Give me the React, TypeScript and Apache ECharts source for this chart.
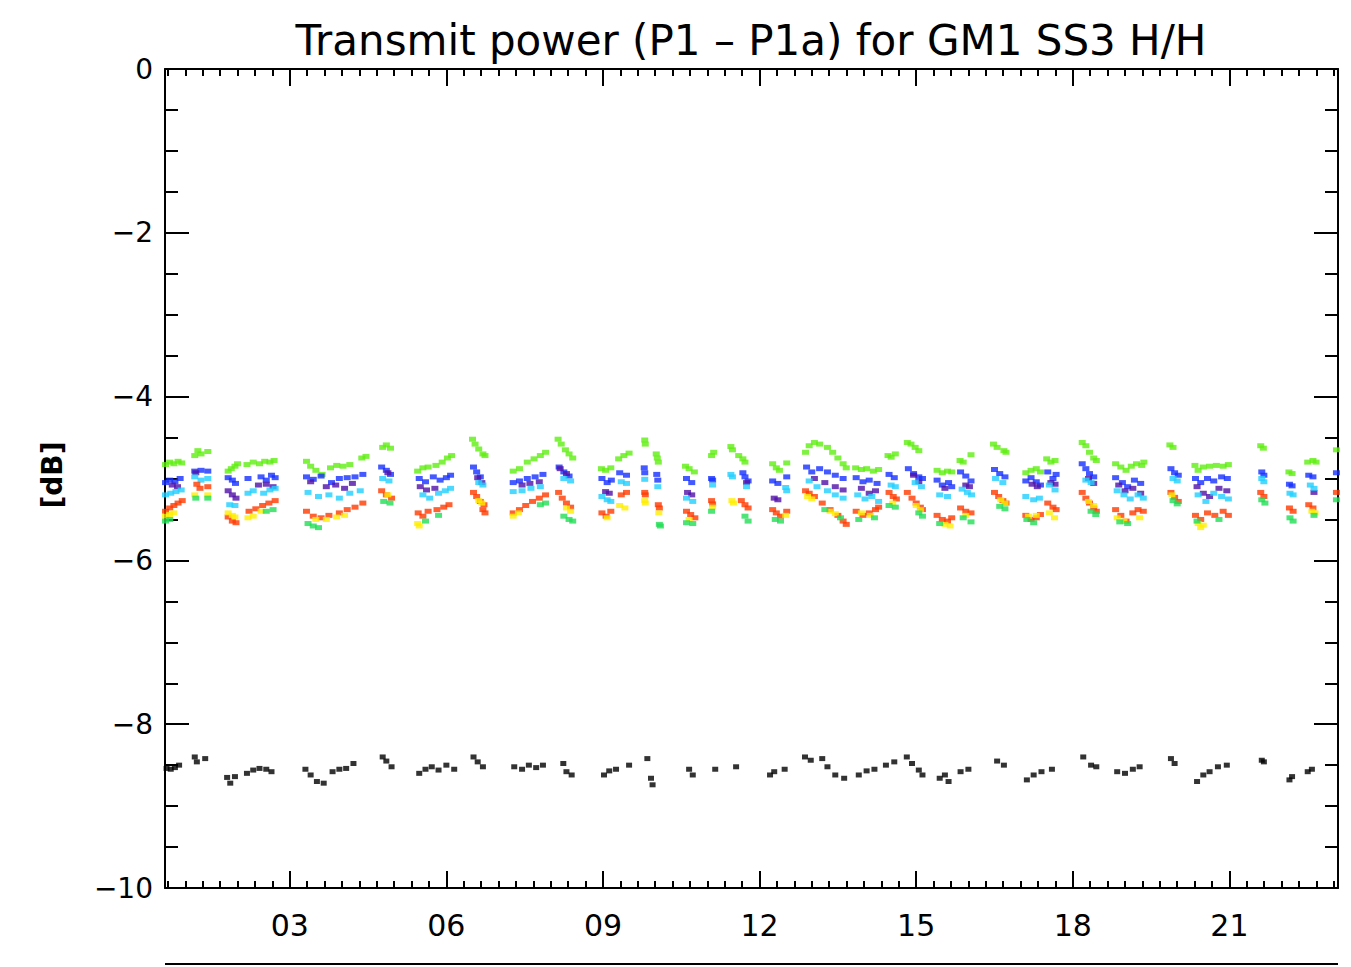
import React, { useEffect, useRef } from "react";
import * as echarts from "echarts";

// ---- axis definitions ----
const X_MIN = 0.61;
const X_MAX = 23.08;
const Y_MIN = -10;
const Y_MAX = 0;
const xMajorTicks = [3, 6, 9, 12, 15, 18, 21];
const xTickLabels = ["03", "06", "09", "12", "15", "18", "21"];
const titleText = "Transmit power (P1 \u2013 P1a) for GM1 SS3 H/H";
const yAxisTitle = "[dB]";

// ---- series values [x, dB] ----
const greenTop: number[][] = [
  [0.62,-4.83],[0.70,-4.80],[0.78,-4.82],[0.86,-4.79],[0.93,-4.81],
  [1.18,-4.72],[1.24,-4.66],[1.30,-4.70],[1.43,-4.67],
  [1.82,-4.91],[1.88,-4.88],[1.95,-4.85],[2.00,-4.82],
  [2.18,-4.83],[2.30,-4.80],[2.42,-4.82],[2.52,-4.79],[2.62,-4.80],[2.70,-4.78],
  [3.32,-4.79],[3.40,-4.85],[3.50,-4.90],[3.62,-4.95],[3.78,-4.87],[3.90,-4.84],[4.02,-4.85],[4.15,-4.83],[4.38,-4.75],[4.46,-4.73],
  [4.78,-4.62],[4.85,-4.59],[4.93,-4.63],
  [5.45,-4.91],[5.55,-4.87],[5.65,-4.86],[5.80,-4.84],[5.92,-4.80],[6.02,-4.75],[6.10,-4.72],
  [6.50,-4.52],[6.55,-4.58],[6.62,-4.64],[6.70,-4.70],[6.74,-4.72],
  [7.28,-4.91],[7.40,-4.88],[7.55,-4.80],[7.68,-4.76],[7.80,-4.72],[7.90,-4.68],
  [8.14,-4.52],[8.20,-4.58],[8.28,-4.65],[8.35,-4.70],[8.42,-4.75],
  [8.97,-4.88],[9.05,-4.90],[9.15,-4.87],
  [9.30,-4.76],[9.40,-4.72],[9.50,-4.69],
  [9.80,-4.53],[9.81,-4.58],
  [10.02,-4.70],[10.04,-4.75],[10.06,-4.80],
  [10.58,-4.85],[10.65,-4.88],[10.75,-4.92],
  [11.08,-4.72],[11.12,-4.68],
  [11.45,-4.61],[11.48,-4.65],[11.60,-4.72],[11.68,-4.76],[11.72,-4.80],
  [12.25,-4.82],[12.32,-4.87],[12.38,-4.90],[12.52,-4.81],
  [12.88,-4.68],[12.95,-4.60],[13.05,-4.56],[13.15,-4.58],[13.30,-4.62],[13.40,-4.68],[13.50,-4.75],[13.60,-4.82],[13.66,-4.87],
  [13.84,-4.87],[13.95,-4.89],[14.05,-4.88],[14.18,-4.91],[14.28,-4.89],
  [14.46,-4.72],[14.52,-4.74],[14.60,-4.70],
  [14.83,-4.56],[14.90,-4.58],[14.98,-4.62],[15.05,-4.66],
  [15.40,-4.90],[15.50,-4.93],[15.60,-4.91],[15.68,-4.92],
  [15.84,-4.78],[15.90,-4.80],[16.05,-4.71],
  [16.48,-4.58],[16.55,-4.62],[16.68,-4.66],[16.72,-4.68],
  [17.10,-4.93],[17.20,-4.90],[17.30,-4.88],[17.38,-4.92],
  [17.50,-4.76],[17.58,-4.80],[17.66,-4.78],
  [18.18,-4.56],[18.25,-4.60],[18.32,-4.68],[18.40,-4.75],[18.45,-4.78],
  [18.82,-4.82],[18.92,-4.86],[19.02,-4.90],[19.12,-4.85],[19.22,-4.82],[19.32,-4.84],[19.36,-4.80],
  [19.86,-4.59],[19.92,-4.62],
  [20.34,-4.84],[20.40,-4.90],[20.50,-4.86],[20.62,-4.85],[20.75,-4.84],[20.88,-4.85],[20.98,-4.83],
  [21.60,-4.60],[21.65,-4.63],
  [22.14,-4.92],[22.20,-4.94],
  [22.50,-4.80],[22.60,-4.78],[22.66,-4.80],
  [23.05,-4.65],
];

const blue: number[][] = [
  [0.62,-5.05],[0.70,-5.02],[0.80,-5.04],[0.90,-5.00],
  [1.18,-4.91],[1.30,-4.90],[1.43,-4.91],
  [1.82,-4.99],[1.90,-5.02],[1.96,-5.06],
  [2.20,-5.00],[2.45,-4.98],[2.55,-5.02],[2.65,-4.96],[2.72,-4.99],
  [3.32,-4.98],[3.45,-5.01],[3.60,-4.97],[3.80,-5.05],[3.95,-5.00],[4.10,-4.99],[4.25,-4.98],[4.40,-4.95],
  [4.76,-4.86],[4.85,-4.90],[4.93,-4.95],
  [5.48,-5.00],[5.60,-5.04],[5.75,-4.98],[5.88,-5.02],[6.00,-4.99],[6.08,-4.96],
  [6.52,-4.86],[6.58,-4.92],[6.65,-4.98],
  [7.28,-5.05],[7.40,-5.03],[7.55,-5.00],[7.70,-4.98],[7.85,-4.95],
  [8.16,-4.86],[8.25,-4.92],[8.35,-4.97],
  [8.98,-5.00],[9.08,-5.05],[9.16,-5.02],
  [9.32,-4.93],[9.45,-4.96],
  [9.79,-4.87],[9.80,-4.93],
  [10.03,-4.95],[10.05,-5.02],
  [10.60,-5.00],[10.70,-5.05],
  [11.08,-5.00],[11.10,-5.02],
  [11.68,-4.93],[11.72,-4.98],[11.78,-5.03],
  [12.25,-5.03],[12.35,-5.06],[12.52,-4.98],
  [12.90,-4.86],[13.00,-4.92],[13.15,-4.88],[13.30,-4.92],[13.45,-4.96],[13.60,-5.00],
  [13.85,-4.99],[13.98,-5.04],[14.10,-5.02],[14.25,-5.06],
  [14.48,-4.95],[14.58,-4.99],
  [14.85,-4.88],[14.95,-4.94],[15.05,-4.98],[15.12,-5.00],
  [15.40,-5.02],[15.50,-5.08],[15.62,-5.05],[15.68,-5.10],
  [15.85,-4.92],[15.95,-4.97],[16.05,-5.03],
  [16.50,-4.89],[16.60,-4.94],[16.70,-4.98],
  [17.10,-5.03],[17.20,-4.99],[17.30,-5.04],[17.38,-5.08],
  [17.52,-4.92],[17.62,-5.00],[17.68,-4.95],
  [18.18,-4.82],[18.25,-4.88],[18.32,-4.94],[18.40,-4.98],
  [18.82,-4.99],[18.95,-5.05],[19.05,-5.10],[19.18,-5.02],[19.30,-5.06],
  [19.88,-4.88],[19.95,-4.93],[20.02,-4.96],
  [20.35,-5.00],[20.45,-5.05],[20.58,-5.00],[20.70,-5.03],[20.85,-4.98],[20.96,-5.00],
  [21.62,-4.92],[21.66,-4.96],
  [22.15,-5.07],[22.20,-5.09],
  [22.52,-4.96],[22.60,-4.98],
  [23.05,-4.93],
];

const purple: number[][] = [
  [0.75,-5.08],[0.85,-5.10],
  [1.20,-4.93],
  [1.82,-5.15],[1.90,-5.20],[1.97,-5.24],
  [2.40,-5.08],[2.55,-5.07],[2.68,-5.10],
  [3.40,-5.04],[3.70,-5.10],[3.88,-5.08],[4.05,-5.12],[4.20,-5.06],
  [4.88,-4.93],
  [5.50,-5.10],[5.62,-5.14],[5.78,-5.12],
  [6.60,-4.99],[6.68,-5.05],
  [7.45,-5.08],[7.60,-5.06],[7.78,-5.04],
  [8.18,-4.88],[8.30,-4.94],
  [9.05,-5.16],[9.12,-5.18],
  [10.62,-5.17],[10.70,-5.20],
  [11.75,-5.05],
  [12.28,-5.24],[12.35,-5.26],
  [13.05,-5.00],[13.25,-5.05],[13.45,-5.10],[13.60,-5.14],
  [13.95,-5.12],[14.10,-5.18],[14.22,-5.15],
  [14.95,-4.96],[15.05,-5.04],
  [15.55,-5.12],
  [15.95,-5.08],[16.02,-5.10],
  [17.22,-5.07],[17.32,-5.10],
  [17.58,-5.05],[17.66,-5.07],
  [18.30,-5.00],[18.40,-5.06],
  [18.88,-5.08],[19.00,-5.15],[19.15,-5.12],[19.30,-5.18],
  [20.38,-5.10],[20.50,-5.18],[20.62,-5.22],[20.80,-5.12],[20.95,-5.15],
  [22.62,-5.17],
];

const cyan: number[][] = [
  [0.62,-5.20],[0.72,-5.18],[0.82,-5.16],[0.92,-5.14],
  [1.18,-4.98],[1.30,-5.02],[1.43,-5.00],
  [1.85,-5.32],[1.95,-5.33],
  [2.20,-5.18],[2.30,-5.15],[2.50,-5.18],[2.62,-5.14],[2.72,-5.12],
  [3.35,-5.17],[3.55,-5.22],[3.75,-5.20],[3.95,-5.24],[4.15,-5.18],[4.35,-5.15],
  [4.78,-5.00],[4.90,-5.03],
  [5.55,-5.20],[5.68,-5.24],[5.85,-5.18],[5.98,-5.15],[6.08,-5.12],
  [6.62,-5.05],[6.70,-5.08],
  [7.28,-5.16],[7.45,-5.15],[7.62,-5.12],[7.80,-5.10],
  [8.25,-5.00],[8.38,-5.03],
  [8.98,-5.22],[9.08,-5.26],[9.15,-5.28],
  [9.35,-5.04],[9.45,-5.06],
  [9.80,-5.01],
  [10.05,-5.10],
  [10.60,-5.24],[10.72,-5.28],
  [11.10,-5.08],
  [11.45,-4.95],[11.48,-4.98],[11.75,-5.10],
  [12.50,-5.11],[12.52,-5.15],
  [12.95,-5.03],[13.10,-5.10],[13.30,-5.15],[13.45,-5.20],[13.60,-5.24],
  [13.88,-5.20],[14.02,-5.25],[14.15,-5.22],[14.28,-5.28],
  [14.52,-5.08],[14.60,-5.10],
  [14.98,-5.05],[15.10,-5.10],
  [15.45,-5.20],[15.60,-5.22],
  [15.88,-5.13],[15.98,-5.17],[16.06,-5.20],
  [16.52,-5.00],[16.66,-5.05],
  [17.10,-5.22],[17.25,-5.26],[17.36,-5.24],
  [17.55,-5.08],[17.66,-5.14],
  [18.25,-5.02],[18.35,-5.05],
  [18.85,-5.15],[18.98,-5.20],[19.10,-5.25],[19.25,-5.20],[19.35,-5.24],
  [19.92,-5.00],[20.00,-5.03],
  [20.40,-5.20],[20.55,-5.28],[20.70,-5.18],[20.85,-5.22],[20.98,-5.25],
  [21.62,-5.00],[21.66,-5.04],
  [22.16,-5.18],[22.22,-5.20],
  [22.55,-5.08],[22.62,-5.12],
];

const red: number[][] = [
  [0.62,-5.40],[0.70,-5.36],[0.78,-5.33],[0.86,-5.30],[0.94,-5.27],
  [1.22,-5.07],[1.28,-5.12],[1.43,-5.10],
  [1.82,-5.47],[1.90,-5.52],[1.97,-5.54],
  [2.22,-5.40],[2.35,-5.37],[2.48,-5.33],[2.60,-5.30],[2.72,-5.27],
  [3.32,-5.40],[3.45,-5.46],[3.60,-5.48],[3.75,-5.45],[3.95,-5.42],[4.10,-5.38],[4.25,-5.35],[4.40,-5.30],
  [4.76,-5.15],[4.85,-5.20],[4.95,-5.24],
  [5.46,-5.42],[5.55,-5.46],[5.65,-5.40],[5.82,-5.38],[5.95,-5.35],[6.05,-5.32],
  [6.52,-5.17],[6.58,-5.22],[6.65,-5.28],[6.72,-5.32],[6.70,-5.38],[6.74,-5.42],
  [7.28,-5.42],[7.40,-5.38],[7.52,-5.33],[7.65,-5.28],[7.78,-5.24],[7.90,-5.20],
  [8.15,-5.17],[8.22,-5.24],[8.30,-5.30],[8.38,-5.35],
  [8.98,-5.42],[9.06,-5.46],[9.15,-5.40],
  [9.35,-5.20],[9.45,-5.17],
  [9.80,-5.17],[9.81,-5.20],
  [10.06,-5.32],[10.08,-5.36],
  [10.60,-5.40],[10.68,-5.44],[10.76,-5.48],
  [11.08,-5.27],[11.10,-5.31],
  [11.65,-5.27],[11.72,-5.32],[11.78,-5.36],
  [12.25,-5.38],[12.32,-5.42],[12.40,-5.46],[12.52,-5.40],
  [12.88,-5.15],[12.95,-5.18],[13.05,-5.22],[13.20,-5.30],[13.35,-5.38],[13.50,-5.45],[13.60,-5.52],[13.66,-5.56],
  [13.85,-5.40],[13.98,-5.45],[14.10,-5.42],[14.22,-5.38],[14.28,-5.35],
  [14.48,-5.17],[14.56,-5.22],[14.62,-5.25],
  [14.83,-5.17],[14.92,-5.24],[15.00,-5.30],[15.08,-5.35],[15.12,-5.38],
  [15.40,-5.45],[15.50,-5.50],[15.60,-5.52],[15.68,-5.48],
  [15.85,-5.36],[15.95,-5.40],[16.05,-5.42],
  [16.50,-5.17],[16.58,-5.22],[16.66,-5.27],[16.72,-5.30],
  [17.10,-5.45],[17.20,-5.50],[17.30,-5.48],[17.38,-5.44],
  [17.52,-5.30],[17.62,-5.35],[17.68,-5.38],
  [18.18,-5.17],[18.25,-5.24],[18.32,-5.30],[18.40,-5.36],[18.45,-5.40],
  [18.82,-5.38],[18.92,-5.45],[19.02,-5.52],[19.15,-5.42],[19.25,-5.38],[19.35,-5.40],
  [19.88,-5.17],[19.95,-5.23],[20.02,-5.28],
  [20.35,-5.45],[20.45,-5.50],[20.58,-5.42],[20.72,-5.45],[20.88,-5.40],[20.98,-5.45],
  [21.60,-5.17],[21.66,-5.22],
  [22.15,-5.36],[22.22,-5.40],
  [22.52,-5.32],[22.60,-5.36],
  [23.05,-5.17],
];

const yellow: number[][] = [
  [0.62,-5.46],[0.70,-5.44],[0.78,-5.42],
  [1.18,-5.20],[1.43,-5.20],
  [1.82,-5.42],[1.90,-5.45],[1.95,-5.47],
  [2.20,-5.48],[2.30,-5.46],[2.45,-5.40],
  [3.50,-5.50],[3.70,-5.50],[3.90,-5.47],[4.05,-5.45],
  [4.88,-5.20],
  [5.45,-5.55],[5.48,-5.58],
  [6.62,-5.27],[6.68,-5.30],
  [7.28,-5.46],[7.38,-5.42],
  [8.30,-5.36],[8.38,-5.40],
  [9.08,-5.48],
  [9.32,-5.33],[9.42,-5.36],
  [9.80,-5.27],[9.81,-5.30],
  [10.07,-5.42],
  [10.65,-5.50],
  [11.10,-5.35],
  [11.47,-5.27],[11.50,-5.30],
  [12.50,-5.45],
  [12.92,-5.22],[13.00,-5.25],[13.35,-5.40],[13.45,-5.43],
  [13.95,-5.42],[14.12,-5.45],
  [14.55,-5.30],
  [15.00,-5.33],[15.08,-5.38],
  [15.55,-5.56],[15.65,-5.58],
  [15.95,-5.45],
  [16.62,-5.26],[16.70,-5.30],
  [17.15,-5.46],[17.30,-5.45],
  [17.55,-5.42],[17.65,-5.48],
  [18.30,-5.28],[18.40,-5.33],
  [18.85,-5.48],[18.98,-5.52],[19.28,-5.48],
  [19.90,-5.20],
  [20.40,-5.55],[20.45,-5.60],[20.50,-5.57],
  [22.58,-5.40],[22.64,-5.42],
];

const greenBottom: number[][] = [
  [0.62,-5.52],[0.70,-5.50],
  [1.20,-5.24],[1.43,-5.24],
  [2.55,-5.40],[2.68,-5.38],
  [3.35,-5.55],[3.45,-5.58],[3.55,-5.60],
  [4.80,-5.28],[4.92,-5.30],
  [5.60,-5.52],[5.85,-5.45],
  [7.80,-5.32],[7.90,-5.30],
  [8.25,-5.46],[8.35,-5.50],[8.42,-5.52],
  [10.08,-5.56],[10.10,-5.58],
  [10.60,-5.54],[10.72,-5.55],
  [11.08,-5.40],
  [11.72,-5.46],[11.78,-5.52],
  [12.30,-5.50],[12.40,-5.52],
  [13.25,-5.38],[13.55,-5.48],
  [13.90,-5.50],[14.20,-5.48],
  [14.48,-5.33],[14.60,-5.35],
  [15.05,-5.42],[15.12,-5.46],
  [15.45,-5.55],
  [15.90,-5.48],[16.05,-5.53],
  [16.60,-5.34],[16.70,-5.37],
  [17.12,-5.50],[17.25,-5.54],
  [18.35,-5.40],[18.44,-5.44],
  [18.90,-5.53],[19.05,-5.55],
  [19.92,-5.27],[20.00,-5.31],
  [20.38,-5.52],[20.80,-5.50],
  [21.62,-5.26],[21.68,-5.30],
  [22.16,-5.48],[22.22,-5.52],
  [22.62,-5.45],
  [23.05,-5.26],
];

const black: number[][] = [
  [0.64,-8.54],[0.72,-8.55],[0.80,-8.53],[0.88,-8.50],
  [1.18,-8.40],[1.22,-8.46],[1.38,-8.42],
  [1.80,-8.65],[1.86,-8.72],[1.95,-8.64],
  [2.18,-8.60],[2.30,-8.56],[2.42,-8.54],[2.55,-8.55],[2.65,-8.58],
  [3.30,-8.55],[3.40,-8.62],[3.52,-8.70],[3.65,-8.72],
  [3.82,-8.58],[3.95,-8.55],[4.08,-8.54],[4.22,-8.48],
  [4.78,-8.40],[4.85,-8.45],[4.95,-8.52],
  [5.48,-8.60],[5.60,-8.55],[5.72,-8.52],[5.85,-8.56],[6.00,-8.50],[6.15,-8.55],
  [6.52,-8.40],[6.60,-8.46],[6.70,-8.52],
  [7.30,-8.52],[7.45,-8.55],[7.58,-8.50],[7.72,-8.53],[7.85,-8.50],
  [8.24,-8.48],[8.30,-8.58],[8.40,-8.62],
  [9.02,-8.62],[9.12,-8.57],[9.25,-8.55],[9.50,-8.50],
  [9.85,-8.42],[9.92,-8.66],[9.95,-8.74],
  [10.65,-8.55],[10.72,-8.62],
  [11.15,-8.55],
  [11.55,-8.52],
  [12.20,-8.62],[12.28,-8.58],[12.48,-8.55],
  [12.87,-8.40],[12.98,-8.44],
  [13.20,-8.42],[13.30,-8.52],[13.45,-8.62],[13.62,-8.66],
  [13.90,-8.62],[14.05,-8.57],[14.20,-8.55],
  [14.42,-8.50],[14.58,-8.46],
  [14.82,-8.40],[14.92,-8.48],[15.05,-8.56],[15.12,-8.62],
  [15.45,-8.66],[15.55,-8.62],[15.62,-8.70],
  [15.85,-8.58],[16.00,-8.55],
  [16.55,-8.45],[16.68,-8.50],
  [17.12,-8.68],[17.25,-8.62],[17.40,-8.58],[17.60,-8.55],
  [18.20,-8.40],[18.35,-8.50],[18.45,-8.52],
  [18.85,-8.58],[19.00,-8.60],[19.15,-8.55],[19.28,-8.52],
  [19.88,-8.42],[19.95,-8.48],
  [20.38,-8.70],[20.50,-8.62],[20.62,-8.58],[20.78,-8.52],[20.95,-8.50],
  [21.62,-8.44],[21.66,-8.46],
  [22.15,-8.68],[22.20,-8.64],
  [22.50,-8.58],[22.58,-8.55],
];

const seriesDefs = [
  { name: "greenTop", data: greenTop, color: "#5fee10", size: [7, 5] },
  { name: "blue", data: blue, color: "#1530ff", size: [7, 5] },
  { name: "purple", data: purple, color: "#5010a8", size: [7, 5] },
  { name: "cyan", data: cyan, color: "#20d0ff", size: [7, 5] },
  { name: "red", data: red, color: "#ff3a00", size: [7, 5] },
  { name: "yellow", data: yellow, color: "#ffee00", size: [7, 5] },
  { name: "greenBottom", data: greenBottom, color: "#22dd55", size: [7, 5] },
  { name: "black", data: black, color: "#000000", size: [6, 5] },
];

const FONT = "DejaVu Sans";

function minorXTicks(): number[] {
  const out: number[] = [];
  for (let k = 1; k < 80; k++) {
    const v = k / 3;
    if (v > X_MIN && v < X_MAX) out.push(Math.round(v * 1000) / 1000);
  }
  return out;
}

export default function App() {
  const ref = useRef<HTMLDivElement>(null);

  useEffect(() => {
    if (!ref.current) return;
    const chart = echarts.init(ref.current, null, { renderer: "svg" });
    const axisLine = { show: true, onZero: false, lineStyle: { color: "#000", width: 2 } };
    const minors = minorXTicks();
    const gridBox = { left: 165, right: 13, top: 69, bottom: 79, containLabel: false };

    const xAxisDef = (
      gridIndex: number,
      position: string,
      ticks: number[],
      len: number,
      labels: boolean,
      line: boolean
    ) => ({
      type: "value",
      gridIndex,
      position,
      min: X_MIN,
      max: X_MAX,
      axisLine: line ? axisLine : { show: false, onZero: false },
      splitLine: { show: false },
      axisTick: {
        show: true,
        inside: true,
        length: len,
        customValues: ticks,
        lineStyle: { color: "#000", width: 2 },
      },
      axisLabel: labels
        ? {
            show: true,
            customValues: xMajorTicks,
            formatter: (v: number) => {
              const i = xMajorTicks.indexOf(Math.round(v));
              return i >= 0 ? xTickLabels[i] : "";
            },
            color: "#000",
            fontFamily: FONT,
            fontSize: 30,
            margin: 22,
          }
        : { show: false },
    });

    const yAxisDef = (position: string, labels: boolean) => ({
      type: "value",
      gridIndex: 0,
      position,
      min: Y_MIN,
      max: Y_MAX,
      interval: 2,
      axisLine,
      splitLine: { show: false },
      axisTick: { show: true, inside: true, length: 24, lineStyle: { color: "#000", width: 2 } },
      minorTick: { show: true, splitNumber: 4, length: 13, lineStyle: { color: "#000", width: 2 } },
      minorSplitLine: { show: false },
      axisLabel: labels
        ? {
            show: true,
            color: "#000",
            fontFamily: FONT,
            fontSize: 28,
            margin: 12,
            formatter: (v: number) => (v === 0 ? "0" : "\u2212" + Math.abs(v)),
          }
        : { show: false },
    });

    chart.setOption({
      animation: false,
      backgroundColor: "#ffffff",
      grid: [gridBox, gridBox],
      xAxis: [
        xAxisDef(0, "bottom", xMajorTicks, 17, true, true),
        xAxisDef(0, "top", xMajorTicks, 17, false, true),
        xAxisDef(1, "bottom", minors, 7, false, false),
        xAxisDef(1, "top", minors, 7, false, false),
      ],
      yAxis: [
        yAxisDef("left", true),
        yAxisDef("right", false),
        { type: "value", gridIndex: 1, min: Y_MIN, max: Y_MAX, show: false },
      ],
      graphic: [
        {
          type: "text",
          x: 751,
          y: 40,
          style: {
            text: titleText,
            fontFamily: FONT,
            fontSize: 42,
            fill: "#000",
            textAlign: "center",
            textVerticalAlign: "middle",
          },
        },
        {
          type: "text",
          x: 52,
          y: 475,
          rotation: Math.PI / 2,
          style: {
            text: yAxisTitle,
            fontFamily: FONT,
            fontSize: 28,
            fontWeight: "bold",
            fill: "#000",
            textAlign: "center",
            textVerticalAlign: "middle",
          },
        },
        {
          type: "line",
          shape: { x1: 165, y1: 964, x2: 1338, y2: 964 },
          style: { stroke: "#000", lineWidth: 2 },
        },
      ],
      series: seriesDefs.map((s) => ({
        name: s.name,
        type: "scatter",
        xAxisIndex: 0,
        yAxisIndex: 0,
        symbol: "rect",
        symbolSize: s.size,
        itemStyle: { color: s.color },
        emphasis: { disabled: true },
        data: s.data,
      })),
    });
    return () => chart.dispose();
  }, []);

  return (
    <div
      ref={ref}
      style={{ position: "fixed", left: 0, top: 0, width: 1351, height: 967, background: "#fff" }}
    />
  );
}
